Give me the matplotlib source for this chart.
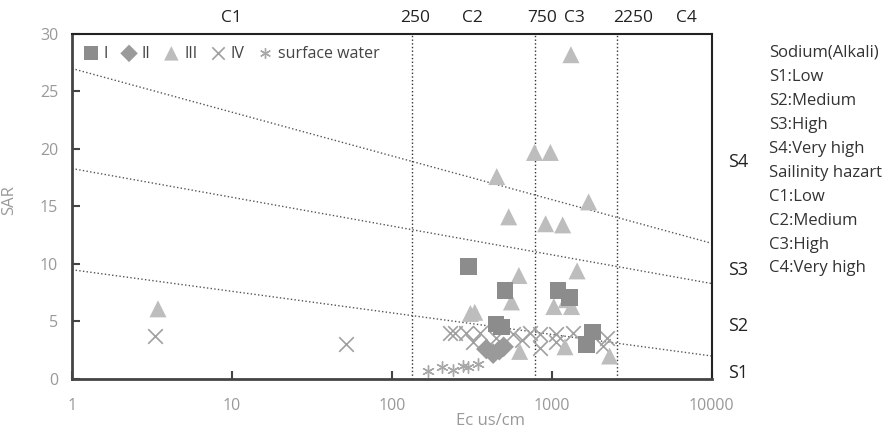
import matplotlib
matplotlib.use("Agg")
import numpy as np
import matplotlib.pyplot as plt

plt.rcParams['font.family'] = ['Open Sans', 'DejaVu Sans']

# group I (squares)
ec_i = [302, 510, 1090, 1290, 448, 485, 1800, 1650]
sar_i = [9.8, 7.7, 7.7, 7.1, 4.8, 4.5, 4.1, 3.0]

# group II (diamonds)
ec_ii = [390, 430, 470, 500]
sar_ii = [2.6, 2.2, 2.5, 2.8]

# group III (triangles)
ec_iii = [3.45, 1318, 780, 980, 453, 1700, 538, 915, 1170, 623, 1440, 560,
          1030, 1235, 1330, 310, 330, 630, 1210, 2300]
sar_iii = [6.1, 28.2, 19.7, 19.7, 17.6, 15.4, 14.1, 13.5, 13.4, 9.0, 9.4, 6.7,
           6.3, 6.9, 6.3, 5.7, 5.8, 2.4, 2.8, 2.0]

# group IV (crosses)
ec_iv = [3.3, 52, 230, 250, 290, 355, 570, 730, 840, 1070, 1350, 2200,
         840, 1070, 2100, 320, 450, 650]
sar_iv = [3.7, 3.0, 4.0, 4.0, 4.0, 4.0, 3.9, 4.0, 3.9, 3.9, 4.0, 3.6,
          2.7, 3.2, 2.9, 3.2, 3.6, 3.4]

# surface water (asterisks)
ec_sw = [168, 205, 240, 278, 300, 345]
sar_sw = [0.7, 1.0, 0.8, 1.1, 1.0, 1.3]

# class boundaries as drawn
boundary_x = [133, 783, 2550]
sodium_left = [27.0, 18.3, 9.5]
sodium_right = [11.8, 8.3, 2.0]

top_labels = ['C1', '250', 'C2', '750', 'C3', '2250', 'C4']
top_label_x = [10, 139, 321, 865, 1390, 3210, 6940]
side_labels = ['S4', 'S3', 'S2', 'S1']
side_label_y = [18.9, 9.5, 4.6, 0.5]
notes = ['Sodium(Alkali)', 'S1:Low', 'S2:Medium', 'S3:High', 'S4:Very high',
         'Sailinity hazart', 'C1:Low', 'C2:Medium', 'C3:High', 'C4:Very high']

fig = plt.figure(figsize=(8.83, 4.32), dpi=100)
ax = fig.add_axes([0.0815, 0.1227, 0.7245, 0.7986])

ax.set_xscale('log')
ax.set_xlim(1, 10000)
ax.set_ylim(0, 30)

for bx in boundary_x:
    ax.axvline(bx, color='#333333', linestyle=':', linewidth=1.0, zorder=1)
for yl, yr in zip(sodium_left, sodium_right):
    ax.plot([1, 10000], [yl, yr], color='#555555', linestyle=':', linewidth=1.0, zorder=1)

ax.scatter(ec_iv, sar_iv, marker='x', s=110, color='#a0a0a0', linewidths=1.2, label='IV', zorder=2)
ax.scatter(ec_sw, sar_sw, marker=(6, 2, 0), s=70, color='#a8a8a8', linewidths=1.0,
           label='surface water', zorder=2)
ax.scatter(ec_iii, sar_iii, marker='^', s=150, color='#bdbdbd', edgecolors='none', label='III', zorder=3)
ax.scatter(ec_ii, sar_ii, marker='D', s=110, color='#9a9a9a', edgecolors='none', label='II', zorder=3)
ax.scatter(ec_i, sar_i, marker='s', s=140, color='#8c8c8c', edgecolors='none', label='I', zorder=4)

handles, labels = ax.get_legend_handles_labels()
order = [labels.index(k) for k in ['I', 'II', 'III', 'IV', 'surface water']]
leg = ax.legend([handles[i] for i in order], [labels[i] for i in order], loc='upper left',
                ncol=5, frameon=False, handletextpad=-0.2, columnspacing=0.3,
                markerscale=0.85, fontsize=11.5, borderaxespad=0.0, bbox_to_anchor=(-0.005, 0.985))
for t in leg.get_texts():
    t.set_color('#444444')

ax.set_yticks([0, 5, 10, 15, 20, 25, 30])
ax.set_xticks([1, 10, 100, 1000, 10000])
ax.set_xticklabels(['1', '10', '100', '1000', '10000'])
ax.minorticks_off()
ax.tick_params(axis='both', direction='in', length=6, width=1.5, colors='#444444',
               labelcolor='#999999', labelsize=11.5)
ax.tick_params(axis='x', pad=14)
ax.tick_params(axis='y', pad=10)
for side in ['left', 'bottom']:
    ax.spines[side].set_linewidth(2.0)
    ax.spines[side].set_color('#444444')
for side in ['top', 'right']:
    ax.spines[side].set_linewidth(1.5)
    ax.spines[side].set_color('#222222')

ax.set_ylabel('SAR', color='#999999', fontsize=12)
ax.yaxis.set_label_coords(-0.085, 0.52)
ax.set_xlabel('Ec us/cm', color='#999999', fontsize=12)
ax.xaxis.set_label_coords(0.655, -0.1)

for lab, lx in zip(top_labels, top_label_x):
    ax.text(lx, 31.4, lab, ha='center', va='center', fontsize=12.5, color='#222222')
for lab, ly in zip(side_labels, side_label_y):
    ax.text(1.025, ly / 30, lab, transform=ax.transAxes, ha='left', va='center',
            fontsize=13, color='#222222')
for i, note in enumerate(notes):
    fig.text(0.871, 0.878 - i * 0.0555, note, ha='left', va='center', fontsize=12, color='#333333')

fig.savefig('out.png', dpi=100)
